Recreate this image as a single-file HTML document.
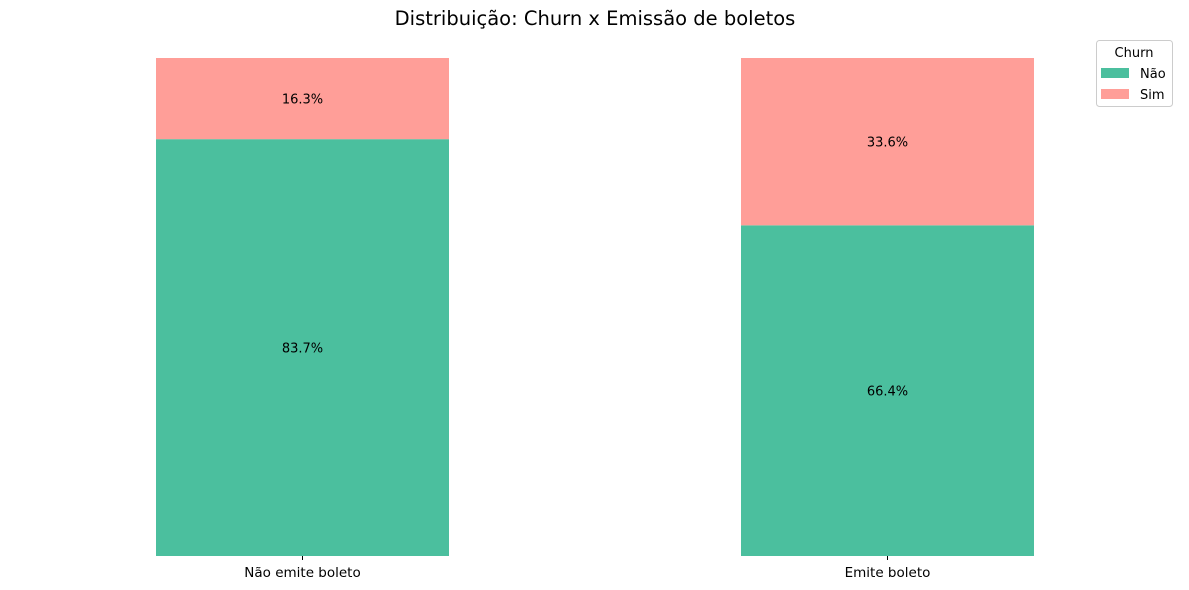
<!DOCTYPE html>
<html><head><meta charset="utf-8"><style>
body{margin:0;background:#fff;}
svg{display:block;font-family:"DejaVu Sans","Liberation Sans",sans-serif;}
</style></head><body>
<svg id="chart" width="1189" height="590" viewBox="0 0 1189 590">
<text x="595" y="25" text-anchor="middle" font-size="19.5">Distribuição: Churn x Emissão de boletos</text>
<g id="bars"></g>
<g>
<rect x="1096.5" y="40.5" width="76" height="66" rx="3" fill="#fff" stroke="#ccc"/>
<text x="1134" y="57" text-anchor="middle" font-size="13">Churn</text>
<rect x="1101" y="68" width="28" height="10" fill="#4bbf9e"/>
<text x="1140" y="78" font-size="13">Não</text>
<rect x="1101" y="89" width="28" height="10" fill="#ff9e98"/>
<text x="1140" y="99" font-size="13">Sim</text>
</g>
</svg>
<script>
const categories = ["Não emite boleto", "Emite boleto"];
const naoValues = [83.7, 66.4];
const simValues = [16.3, 33.6];
const ns = "http://www.w3.org/2000/svg";
const g = document.getElementById("bars");
const y0 = 556, yTop = 58;
function y(v){ return y0 - v/100*(y0-yTop); }
function xc(i){ return 302.5 + i*585; }
const bw = 293;
function mk(tag, attrs){ const e=document.createElementNS(ns,tag); for(const k in attrs) e.setAttribute(k,attrs[k]); g.appendChild(e); return e; }
categories.forEach((c,i)=>{
  const x = xc(i)-bw/2;
  const r1 = mk("rect",{x:x,y:y(naoValues[i]),width:bw,height:y0-y(naoValues[i]),fill:"#4bbf9e"});
  
  
  const top = naoValues[i]+simValues[i];
  const r2 = mk("rect",{x:x,y:y(top),width:bw,height:y(naoValues[i])-y(top),fill:"#ff9e98"});
  
  
  const t1 = mk("text",{x:xc(i),y:y(naoValues[i]/2)+5,"text-anchor":"middle","font-size":"13"});
  t1.textContent = naoValues[i].toFixed(1)+"%";
  
  
  const t2 = mk("text",{x:xc(i),y:y(naoValues[i]+simValues[i]/2)+5,"text-anchor":"middle","font-size":"13"});
  t2.textContent = simValues[i].toFixed(1)+"%";
  
  
  const tk = mk("line",{x1:xc(i),x2:xc(i),y1:y0,y2:y0+4,stroke:"#000"});
  
  
  const tl = mk("text",{x:xc(i),y:577,"text-anchor":"middle","font-size":"13.5"});
  tl.textContent = c;
  
  
});
</script>
</body></html>
